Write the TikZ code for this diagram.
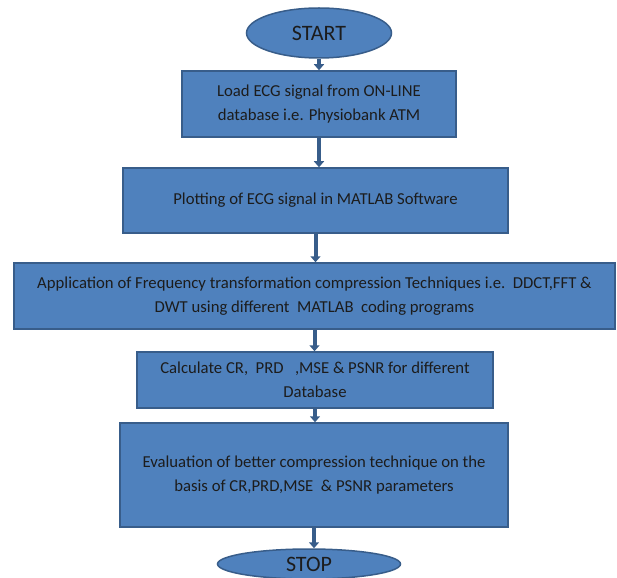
\documentclass[tikz,border=0pt]{standalone}
\usepackage{fontspec}
\setmainfont{Carlito}
\usetikzlibrary{arrows.meta,shapes.geometric}
\definecolor{boxfill}{HTML}{4F81BD}
\definecolor{boxline}{HTML}{385D8A}
\definecolor{boxtext}{HTML}{1C1C1C}
\tikzset{
  stepbox/.style={draw=boxline, line width=1.5pt, fill=boxfill, text=boxtext,
    align=center, inner sep=0pt, font=\fontsize{16.7}{23.5}\selectfont},
  terminal/.style={ellipse, draw=boxline, line width=1.5pt, fill=boxfill,
    text=boxtext, inner sep=0pt, font=\fontsize{22}{26}\selectfont},
  flow/.style={draw=boxline, line width=4pt, -{Triangle[width=10pt,length=6pt]}}
}
\begin{document}
\begin{tikzpicture}[x=1pt,y=-1pt]
\useasboundingbox (0,0) rectangle (617,577);

% terminals
\node[terminal, minimum width=145pt, minimum height=50pt] (start) at (319,33) {START};
\node[terminal, minimum width=183pt, minimum height=30pt] (stop) at (309,564) {STOP};

% process steps
\node[stepbox, minimum width=274pt, minimum height=66pt] (load) at (319,104)
  {Load ECG signal from ON-LINE\\database i.e. Physiobank ATM};
\node[stepbox, minimum width=385pt, minimum height=65pt] (plot) at (315.5,200.5)
  {Plotting of ECG signal in MATLAB Software};
\node[stepbox, minimum width=601pt, minimum height=66pt] (apply) at (314.5,296)
  {Application of Frequency transformation compression Techniques i.e.\ \ DDCT,FFT \&\\DWT using different\ \ MATLAB\ \ coding programs};
\node[stepbox, minimum width=356pt, minimum height=56pt] (calc) at (315,380)
  {Calculate CR,\ \ PRD\ \ \ ,MSE \& PSNR for different\\Database};
\node[stepbox, minimum width=388pt, minimum height=104pt] (eval) at (314,475)
  {Evaluation of better compression technique on the\\basis of CR,PRD,MSE\ \ \& PSNR parameters};

% connectors
\draw[flow] (start.south) -- (start.south |- load.north);
\draw[flow] (load.south) -- (load.south |- plot.north);
\draw[flow] (plot.south) -- (plot.south |- apply.north);
\draw[flow] (apply.south) -- (apply.south |- calc.north);
\draw[flow] (calc.south) -- (calc.south |- eval.north);
\draw[flow] (eval.south) -- (eval.south |- stop.north);
\end{tikzpicture}
\end{document}
